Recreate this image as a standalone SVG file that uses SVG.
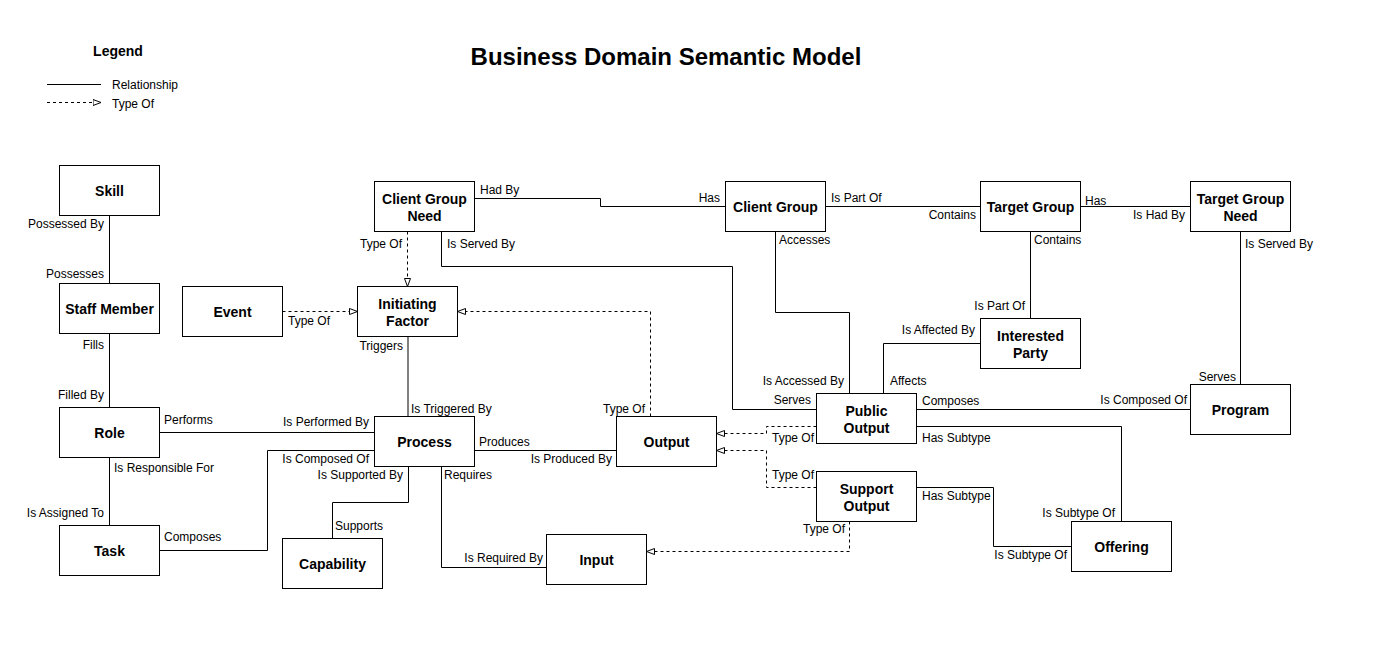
<svg xmlns="http://www.w3.org/2000/svg" width="1390" height="661" viewBox="0 0 1390 661">
<style>
.n rect{fill:#fff;stroke:#000;stroke-width:1}
.n text{font-family:"Liberation Sans",Arial,sans-serif;font-size:14px;font-weight:bold;text-anchor:middle;fill:#000}
.c path{fill:none;stroke:#000;stroke-width:1}
.c path.d{stroke-dasharray:3 3;marker-end:url(#tri)}
.l{font-family:"Liberation Sans",Arial,sans-serif;font-size:12px;fill:#000}
.e{text-anchor:end}
</style>
<defs>
<marker id="tri" markerUnits="userSpaceOnUse" markerWidth="10" markerHeight="8" refX="8.5" refY="3.5" orient="auto">
<path d="M0.5,0.5 L8.5,3.5 L0.5,6.5 z" fill="#fff" stroke="#000" stroke-width="1"/>
</marker>
</defs>
<rect width="1390" height="661" fill="#fff"/>
<text x="666" y="65" style="font-family:'Liberation Sans',Arial,sans-serif;font-size:24px;font-weight:bold;text-anchor:middle">Business Domain Semantic Model</text>
<g id="legend">
<text x="118" y="56" style="font-family:'Liberation Sans',Arial,sans-serif;font-size:14px;font-weight:bold;text-anchor:middle">Legend</text>
<path d="M47 84.5 H101" fill="none" stroke="#000"/>
<path d="M47 102.5 H101" fill="none" stroke="#000" stroke-dasharray="3 3" marker-end="url(#tri)"/>
<text class="l" x="112" y="89">Relationship</text>
<text class="l" x="112" y="107.5">Type Of</text>
</g>
<g class="c" id="connectors">
<path d="M109.5 215.5 V283.5"/>
<path d="M109.5 333.5 V407.5"/>
<path d="M109.5 457.5 V525.5"/>
<path d="M159.5 432.5 H374.5"/>
<path d="M159.5 550.5 H267.5 V450.5 H374.5"/>
<path d="M408.5 466.5 V502.5 H332.5 V538.5"/>
<path d="M408 336.5 V416.5"/>
<path d="M474.5 450.5 H616.5"/>
<path d="M441.5 466.5 V567.5 H546.5"/>
<path d="M474.5 198.5 H600.5 V206.5 H725.5"/>
<path class="d" d="M407.5 231.5 V286.5"/>
<path d="M441.5 231.5 V266.5 H732.5 V409.5 H816.5"/>
<path class="d" d="M282.5 311.5 H357.5"/>
<path class="d" d="M650.5 416.5 V311.5 H457.5"/>
<path d="M775.5 231.5 V312.5 H849.5 V393.5"/>
<path d="M825.5 206.5 H980.5"/>
<path d="M1080.5 206.5 H1190.5"/>
<path d="M1030.5 231.5 V318.5"/>
<path d="M980.5 343.5 H883.5 V393.5"/>
<path d="M1240.5 231.5 V384.5"/>
<path d="M916.5 409.5 H1190.5"/>
<path d="M916.5 426.5 H1121.5 V521.5"/>
<path d="M916.5 487.5 H993.5 V546.5 H1071.5"/>
<path class="d" d="M816.5 426.5 H766.5 V433.5 H716.5"/>
<path class="d" d="M816.5 487.5 H766.5 V450.5 H716.5"/>
<path class="d" d="M849.5 521.5 V551.5 H646.5"/>
</g>
<g id="labels">
<text class="l e" x="104" y="228">Possessed By</text>
<text class="l e" x="104" y="278">Possesses</text>
<text class="l e" x="104" y="349">Fills</text>
<text class="l e" x="104" y="399">Filled By</text>
<text class="l" x="114" y="472">Is Responsible For</text>
<text class="l e" x="104" y="517">Is Assigned To</text>
<text class="l" x="164" y="423.5">Performs</text>
<text class="l e" x="369" y="426">Is Performed By</text>
<text class="l" x="164" y="541">Composes</text>
<text class="l e" x="369" y="463">Is Composed Of</text>
<text class="l e" x="403" y="478.5">Is Supported By</text>
<text class="l" x="335" y="529.5">Supports</text>
<text class="l e" x="403" y="350">Triggers</text>
<text class="l" x="411" y="413">Is Triggered By</text>
<text class="l" x="479" y="446">Produces</text>
<text class="l e" x="612" y="463">Is Produced By</text>
<text class="l" x="444" y="479">Requires</text>
<text class="l e" x="543" y="562">Is Required By</text>
<text class="l" x="480" y="194">Had By</text>
<text class="l e" x="720" y="202">Has</text>
<text class="l e" x="402" y="248">Type Of</text>
<text class="l" x="447" y="248">Is Served By</text>
<text class="l e" x="811" y="404">Serves</text>
<text class="l" x="288" y="325">Type Of</text>
<text class="l e" x="645" y="413">Type Of</text>
<text class="l" x="779" y="244">Accesses</text>
<text class="l e" x="844" y="385">Is Accessed By</text>
<text class="l" x="831" y="202">Is Part Of</text>
<text class="l e" x="976" y="219">Contains</text>
<text class="l" x="1085" y="205">Has</text>
<text class="l e" x="1185" y="219">Is Had By</text>
<text class="l" x="1034" y="244">Contains</text>
<text class="l e" x="1025" y="310">Is Part Of</text>
<text class="l e" x="975" y="334">Is Affected By</text>
<text class="l" x="890" y="385">Affects</text>
<text class="l" x="1245" y="248">Is Served By</text>
<text class="l e" x="1236" y="381">Serves</text>
<text class="l" x="922" y="405">Composes</text>
<text class="l e" x="1187" y="404">Is Composed Of</text>
<text class="l" x="922" y="442">Has Subtype</text>
<text class="l e" x="1115" y="517">Is Subtype Of</text>
<text class="l" x="922" y="500">Has Subtype</text>
<text class="l e" x="1067" y="559">Is Subtype Of</text>
<text class="l" x="772" y="442">Type Of</text>
<text class="l" x="772" y="479">Type Of</text>
<text class="l e" x="845" y="533">Type Of</text>
</g>
<g class="n" id="skill"><rect x="59.5" y="165.5" width="100" height="50"/><text x="109.5" y="195.5">Skill</text></g>
<g class="n" id="staff-member"><rect x="59.5" y="283.5" width="100" height="50"/><text x="109.5" y="313.5">Staff Member</text></g>
<g class="n" id="event"><rect x="182.5" y="286.5" width="100" height="50"/><text x="232.5" y="316.5">Event</text></g>
<g class="n" id="role"><rect x="59.5" y="407.5" width="100" height="50"/><text x="109.5" y="437.5">Role</text></g>
<g class="n" id="task"><rect x="59.5" y="525.5" width="100" height="50"/><text x="109.5" y="555.5">Task</text></g>
<g class="n" id="capability"><rect x="282.5" y="538.5" width="100" height="50"/><text x="332.5" y="568.5">Capability</text></g>
<g class="n" id="process"><rect x="374.5" y="416.5" width="100" height="50"/><text x="424.5" y="446.5">Process</text></g>
<g class="n" id="output"><rect x="616.5" y="416.5" width="100" height="50"/><text x="666.5" y="446.5">Output</text></g>
<g class="n" id="input"><rect x="546.5" y="534.5" width="100" height="50"/><text x="596.5" y="564.5">Input</text></g>
<g class="n" id="client-group-need"><rect x="374.5" y="181.5" width="100" height="50"/><text x="424.5" y="203.5">Client Group</text><text x="424.5" y="220.5">Need</text></g>
<g class="n" id="initiating-factor"><rect x="357.5" y="286.5" width="100" height="50"/><text x="407.5" y="308.5">Initiating</text><text x="407.5" y="325.5">Factor</text></g>
<g class="n" id="client-group"><rect x="725.5" y="181.5" width="100" height="50"/><text x="775.5" y="211.5">Client Group</text></g>
<g class="n" id="target-group"><rect x="980.5" y="181.5" width="100" height="50"/><text x="1030.5" y="211.5">Target Group</text></g>
<g class="n" id="target-group-need"><rect x="1190.5" y="181.5" width="100" height="50"/><text x="1240.5" y="203.5">Target Group</text><text x="1240.5" y="220.5">Need</text></g>
<g class="n" id="interested-party"><rect x="980.5" y="318.5" width="100" height="50"/><text x="1030.5" y="340.5">Interested</text><text x="1030.5" y="357.5">Party</text></g>
<g class="n" id="public-output"><rect x="816.5" y="393.5" width="100" height="50"/><text x="866.5" y="415.5">Public</text><text x="866.5" y="432.5">Output</text></g>
<g class="n" id="support-output"><rect x="816.5" y="471.5" width="100" height="50"/><text x="866.5" y="493.5">Support</text><text x="866.5" y="510.5">Output</text></g>
<g class="n" id="offering"><rect x="1071.5" y="521.5" width="100" height="50"/><text x="1121.5" y="551.5">Offering</text></g>
<g class="n" id="program"><rect x="1190.5" y="384.5" width="100" height="50"/><text x="1240.5" y="414.5">Program</text></g>
</svg>
